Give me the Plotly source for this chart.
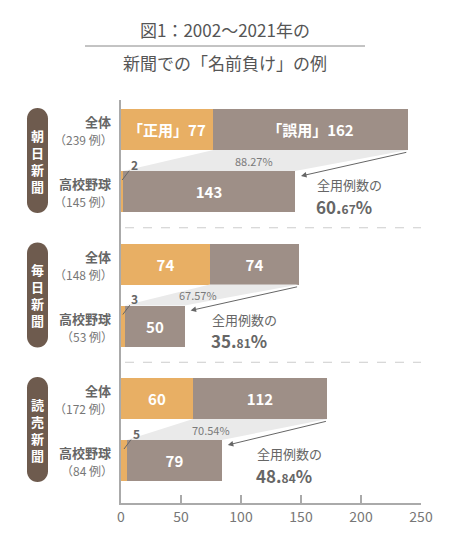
import plotly.graph_objects as go

# ---------------- data ----------------
papers = ["朝日新聞", "毎日新聞", "読売新聞"]
row_labels = ["全体", "高校野球"]
all_correct = [77, 74, 60]      # 「正用」
all_misuse = [162, 74, 112]     # 「誤用」
hs_correct = [2, 3, 5]
hs_misuse = [143, 50, 79]
x_ticks = [0, 50, 100, 150, 200, 250]
title_lines = ["図1：2002～2021年の", "新聞での「名前負け」の例"]

all_total = [a + b for a, b in zip(all_correct, all_misuse)]
hs_total = [a + b for a, b in zip(hs_correct, hs_misuse)]

# ---------------- layout constants ----------------
W, H = 450, 550
ML, MR, MT, MB = 121, 29, 100, 47
PW = W - ML - MR          # 300
PH = H - MT - MB          # 403
XMAX = 250
UPX = XMAX / PW           # data units per pixel (x)
TOP0, STEP, GAP, BAR_H = 29.5, 134.5, 62, 41
NOTE_DX = [17, 21, 28]    # note offset right of lower bar (data units)

ORANGE = "#E8AF64"
GRAY = "#9E8F87"
PILL = "#6E5B4E"
GAPC = "#EAEAEA"
TXT = "#666666"
AX = "#AAAAAA"
FONT = "Noto Sans CJK JP"


def px2x(px):
    return (px - ML) / PW


def py2paper(py):
    return (H - MB - py) / PH


y_top = [TOP0 + STEP * g for g in range(3)]
y_low = [y + GAP for y in y_top]

fig = go.Figure()

# gap funnels (drawn first)
for g in range(3):
    yb = y_top[g] + BAR_H / 2
    yt = y_low[g] - BAR_H / 2
    fig.add_trace(go.Scatter(
        x=[all_correct[g], all_total[g], hs_total[g], hs_correct[g], all_correct[g]],
        y=[yb, yb, yt, yt, yb],
        fill="toself", fillcolor=GAPC, mode="lines", line=dict(width=0),
        hoverinfo="skip", showlegend=False))

# bars
ys, xc, xm, tc, tm = [], [], [], [], []
for g in range(3):
    ys += [y_top[g], y_low[g]]
    xc += [all_correct[g], hs_correct[g]]
    xm += [all_misuse[g], hs_misuse[g]]
    if g == 0:
        tc += ["「正用」%d" % all_correct[g], ""]
        tm += ["「誤用」%d" % all_misuse[g], str(hs_misuse[g])]
    else:
        tc += [str(all_correct[g]), ""]
        tm += [str(all_misuse[g]), str(hs_misuse[g])]

common = dict(orientation="h", width=BAR_H, textposition="inside",
              insidetextanchor="middle", textangle=0, constraintext="none",
              textfont=dict(color="white", size=15, family=FONT, weight="bold"),
              hoverinfo="skip", showlegend=False)
fig.add_trace(go.Bar(x=xc, y=ys, text=tc, marker=dict(color=ORANGE, line=dict(width=0)), **common))
fig.add_trace(go.Bar(x=xm, y=ys, text=tm, marker=dict(color=GRAY, line=dict(width=0)), **common))

ann = []
shapes = []
for g in range(3):
    # ratio text in gap
    gy = y_top[g] + BAR_H / 2 + (GAP - BAR_H) / 2
    ratio = hs_misuse[g] / all_misuse[g] * 100
    gx = ((all_correct[g] + all_total[g]) / 2 + (hs_correct[g] + hs_total[g]) / 2) / 2 - 5
    ann.append(dict(x=gx, y=gy, xref="x", yref="y", text="%.2f%%" % ratio, showarrow=False,
                    xanchor="center", yanchor="middle",
                    font=dict(size=11, color="#7a7a7a", family=FONT)))
    # arrow from top bar end to lower bar end
    ann.append(dict(x=hs_total[g] + 6 * UPX, y=y_low[g] - BAR_H / 2 + 5, xref="x", yref="y",
                    ax=all_total[g], ay=y_top[g] + BAR_H / 2 + 2, axref="x", ayref="y",
                    text="", showarrow=True, arrowhead=2, arrowsize=1.1, arrowwidth=1,
                    arrowcolor=TXT, standoff=0))
    # share note
    share = hs_total[g] / all_total[g] * 100
    s = "%.2f" % share
    ip, fp = s.split(".")
    nx = hs_total[g] + NOTE_DX[g]
    ann.append(dict(x=nx, y=y_low[g] - 7, xref="x", yref="y", text="全用例数の",
                    showarrow=False, xanchor="left", yanchor="middle",
                    font=dict(size=13, color=TXT, family=FONT)))
    ann.append(dict(x=nx - 1, y=y_low[g] + 14.5, xref="x", yref="y",
                    text="<b>%s.</b><span style='font-size:12px'><b>%s</b></span><b>%%</b>" % (ip, fp),
                    showarrow=False, xanchor="left", yanchor="middle",
                    font=dict(size=17, color=TXT, family=FONT)))
    # small orange value label
    ann.append(dict(x=hs_correct[g] * 0.5, y=y_low[g] - BAR_H / 2 + 9, xref="x", yref="y",
                    ax=12, ay=-16, text="<b>%d</b>" % hs_correct[g], showarrow=True,
                    arrowhead=0, arrowwidth=1, arrowcolor=TXT, standoff=0,
                    font=dict(size=12, color=TXT, family=FONT)))
    # row labels
    rows = [(y_top[g], row_labels[0], all_total[g]), (y_low[g], row_labels[1], hs_total[g])]
    for yc, lab, tot in rows:
        ann.append(dict(x=px2x(113), y=yc - 8, xref="paper", yref="y", text="<b>%s</b>" % lab,
                        showarrow=False, xanchor="right", yanchor="middle",
                        font=dict(size=13, color=TXT, family=FONT)))
        ann.append(dict(x=px2x(115), y=yc + 10, xref="paper", yref="y", text="（%d 例）" % tot,
                        showarrow=False, xanchor="right", yanchor="middle",
                        font=dict(size=12, color="#777777", family=FONT)))
    # pill
    x0, x1 = px2x(27), px2x(48)
    xmid = (x0 + x1) / 2
    r_px = 10.5
    rx = r_px / PW
    ry = r_px
    y0 = y_top[g] - BAR_H / 2 - 1
    y1 = y_low[g] + BAR_H / 2 + 1
    k = 0.5523
    path = (f"M {x0},{y0+ry} C {x0},{y0+ry*(1-k)} {xmid-rx*k},{y0} {xmid},{y0} "
            f"C {xmid+rx*k},{y0} {x1},{y0+ry*(1-k)} {x1},{y0+ry} "
            f"L {x1},{y1-ry} C {x1},{y1-ry*(1-k)} {xmid+rx*k},{y1} {xmid},{y1} "
            f"C {xmid-rx*k},{y1} {x0},{y1-ry*(1-k)} {x0},{y1-ry} Z")
    shapes.append(dict(type="path", path=path, xref="paper", yref="y",
                       fillcolor=PILL, line=dict(width=0), layer="above"))
    ann.append(dict(x=xmid, y=(y0 + y1) / 2, xref="paper", yref="y",
                    xanchor="center", yanchor="middle",
                    text="<br>".join("<b>%s</b>" % c for c in papers[g]),
                    showarrow=False, font=dict(size=13, color="white", family=FONT)))
    # dashed separator
    if g < 2:
        sy = ((y_low[g] + BAR_H / 2) + (y_top[g + 1] - BAR_H / 2)) / 2
        shapes.append(dict(type="line", xref="paper", yref="y", x0=px2x(125), x1=1,
                           y0=sy, y1=sy, line=dict(color="#CCCCCC", width=1, dash="dash")))

# title
ann.append(dict(x=px2x(225), y=py2paper(30), xref="paper", yref="paper", text=title_lines[0],
                xanchor="center", yanchor="middle",
                showarrow=False, font=dict(size=17, color="#555555", family=FONT)))
ann.append(dict(x=px2x(225), y=py2paper(63), xref="paper", yref="paper", text=title_lines[1],
                xanchor="center", yanchor="middle",
                showarrow=False, font=dict(size=17, color="#555555", family=FONT)))
shapes.append(dict(type="line", xref="paper", yref="paper", x0=px2x(85), x1=px2x(365),
                   y0=py2paper(46), y1=py2paper(46), line=dict(color="#888888", width=1)))

fig.update_layout(
    width=W, height=H, margin=dict(l=ML, r=MR, t=MT, b=MB),
    paper_bgcolor="white", plot_bgcolor="white", barmode="stack",
    bargap=0, annotations=ann, shapes=shapes, showlegend=False,
    font=dict(family=FONT, color=TXT),
    xaxis=dict(range=[0, XMAX], tickvals=x_ticks, ticks="inside", ticklen=8, tickwidth=2,
               tickcolor=AX, showline=True, linecolor=AX, linewidth=2, showgrid=False,
               zeroline=False, tickfont=dict(size=14, color="#777777", family=FONT),
               fixedrange=True),
    yaxis=dict(range=[PH, 0], showticklabels=False, ticks="", showline=True, linecolor=AX,
               linewidth=2, showgrid=False, zeroline=False, fixedrange=True),
)
fig.write_html("out.html")
